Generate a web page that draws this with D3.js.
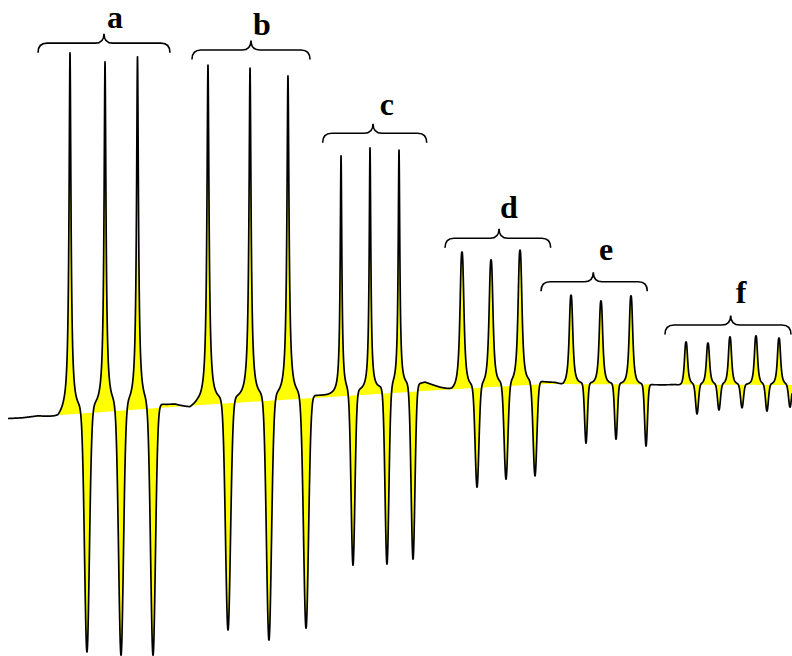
<!DOCTYPE html>
<html>
<head>
<meta charset="utf-8">
<script src="https://cdn.jsdelivr.net/npm/d3@7"></script>
<style>
  html, body { margin: 0; padding: 0; background: #ffffff; }
  svg { display: block; }
</style>
</head>
<body>
<svg id="chart" width="792" height="656"></svg>
<script>
// ---- Spectrum data (field in sweep units 0-100, intensity in arbitrary units) ----
const groupNames = ["a", "b", "c", "d", "e", "f"];

// group index of every hyperfine line
const lineGroup = [0, 0, 0, 1, 1, 1, 2, 2, 2, 3, 3, 3, 4, 4, 4, 5, 5, 5, 5, 5];

// positive lobe: field and apex intensity
const peakField = [8.84, 13.26, 17.36, 26.26, 31.57, 36.36, 43.06, 46.72, 50.38,
                   58.33, 62.00, 65.66, 72.10, 75.88, 79.67, 86.62, 89.39, 92.17, 95.45, 98.36];
const peakTop   = [101.7, 99.2, 100.6, 98.3, 97.5, 95.3, 73.1, 75.3, 74.7,
                   46.4, 44.2, 46.9, 34.4, 32.8, 34.2, 21.4, 21.1, 22.8, 23.1, 22.5];

// negative lobe: field and minimum intensity
const troughField  = [10.98, 15.28, 19.32, 28.79, 33.96, 38.64, 44.57, 48.86, 52.15,
                      60.23, 63.89, 67.55, 73.99, 77.78, 81.57, 88.01, 90.78, 93.69, 96.84, 99.75];
const troughBottom = [-64.7, -65.6, -65.6, -58.6, -61.4, -58.1, -40.6, -40.3, -38.9,
                      -18.9, -16.7, -15.8, -6.7, -5.6, -7.5, 1.4, 2.5, 3.1, 2.2, 3.3];

// line-shape parameters per group
const posWidth = [0.150, 0.160, 0.125, 0.285, 0.260, 0.235];
const posPower = [1.85, 1.85, 1.9, 2.6, 2.6, 2.6];
const negWidth = [0.305, 0.315, 0.240, 0.235, 0.175, 0.180];

// baseline drift of the recorded trace
const driftField = [1.01, 2.78, 4.80, 6.31, 7.32, 8.08, 12.63, 18.94, 22.10, 23.99, 25.00, 29.04,
                    37.88, 41.41, 46.72, 52.40, 53.66, 55.56, 57.07, 57.83, 63.13, 68.18, 70.08,
                    71.09, 71.72, 82.07, 85.23, 86.11, 87.12, 100];
const driftLevel = [0, 0.14, 0.56, 0.14, -0.28, 0.83, 2.5, 3.33, 3.61, 2.5, 3.61, 4.72,
                    5.83, 6.11, 7.5, 9.17, 10.0, 8.61, 7.78, 8.33, 9.44, 10.28, 10.0,
                    9.17, 9.72, 9.44, 9.44, 8.89, 9.44, 9.44];

// reference level the shaded area is measured from
const refField = [4.17, 25.25, 41.67, 55.56, 68.81, 100];
const refLevel = [0.56, 3.89, 6.11, 8.06, 9.72, 9.44];

// group braces and labels
const braceFrom  = [4.80, 24.24, 40.74, 56.19, 68.31, 83.96];
const braceTo    = [21.46, 39.14, 53.88, 69.53, 81.73, 99.87];
const braceTip   = [13.13, 31.69, 47.10, 63.01, 74.91, 92.26];
const braceLevel = [104.4, 102.5, 79.36, 50.19, 38.14, 26.11];
const labelField = [14.52, 33.08, 48.86, 64.27, 76.52, 93.56];
const labelLevel = [108.6, 106.7, 84.44, 55.83, 44.17, 32.22];

// ---- Scales ----
const width = 792, height = 656;
const svg = d3.select("#chart");
const x = d3.scaleLinear().domain([0, 100]).range([0, width]);
const y = d3.scaleLinear().domain([0, 100]).range([419, 59]);
const drift = d3.scaleLinear().domain(driftField).range(driftLevel).clamp(true);
const ref = d3.scaleLinear().domain(refField).range(refLevel).clamp(true);

// each line: a sharp positive lobe followed by a gaussian negative lobe
const lines = peakField.map((pf, i) => {
  const g = lineGroup[i];
  return {
    pf, tf: troughField[i],
    pa: peakTop[i] - drift(peakField[i]),
    ta: drift(troughField[i]) - troughBottom[i],
    gw: posWidth[g], gp: posPower[g], s: negWidth[g]
  };
});

function signal(f) {
  let v = drift(f);
  for (const l of lines) {
    const u = Math.abs(f - l.pf) / l.gw;
    v += l.pa / (1 + Math.pow(u, l.gp));
    const d = (f - l.tf) / l.s;
    v -= l.ta * Math.exp(-0.5 * d * d);
  }
  return v;
}

// adjust lobe amplitudes so overlapping tails still meet the listed extremes
for (let k = 0; k < 8; k++) {
  lines.forEach((l, i) => {
    l.pa += peakTop[i] - signal(l.pf);
    l.ta += signal(l.tf) - troughBottom[i];
  });
}

const sampleFields = d3.range(1.01, 100.0001, 0.01)
  .concat(peakField, troughField)
  .sort((p, q) => p - q);
const trace = sampleFields.map(f => ({ f, v: signal(f) }));

// ---- Shaded area between trace and reference level ----
const area = d3.area()
  .x(d => x(d.f))
  .y0(d => y(ref(d.f)))
  .y1(d => y(d.v));

svg.append("path")
  .datum(trace.filter(d => d.f >= refField[0]))
  .attr("d", area)
  .attr("fill", "#ffff00")
  .attr("stroke", "none");

// ---- Trace ----
const line = d3.line().x(d => x(d.f)).y(d => y(d.v));
svg.append("path")
  .datum(trace)
  .attr("d", line)
  .attr("fill", "none")
  .attr("stroke", "#000")
  .attr("stroke-width", 1.7)
  .attr("stroke-linejoin", "round");

// ---- Braces with group labels ----
const hook = 9.5, tipRise = 9.5, corner = 9;
const braces = svg.append("g").attr("class", "braces");
groupNames.forEach((name, i) => {
  const x0 = x(braceFrom[i]), x1 = x(braceTo[i]), xc = x(braceTip[i]);
  const yl = y(braceLevel[i]);
  const p = d3.path();
  p.moveTo(x0, yl + hook);
  p.quadraticCurveTo(x0, yl, x0 + corner, yl);
  p.lineTo(xc - corner, yl);
  p.quadraticCurveTo(xc, yl, xc, yl - tipRise);
  p.quadraticCurveTo(xc, yl, xc + corner, yl);
  p.lineTo(x1 - corner, yl);
  p.quadraticCurveTo(x1, yl, x1, yl + hook);
  braces.append("path")
    .attr("d", p.toString())
    .attr("fill", "none")
    .attr("stroke", "#000")
    .attr("stroke-width", 1.6);
  braces.append("text")
    .attr("x", x(labelField[i]))
    .attr("y", y(labelLevel[i]))
    .attr("text-anchor", "middle")
    .attr("font-family", "'Liberation Serif', 'Times New Roman', serif")
    .attr("font-weight", "bold")
    .attr("font-size", 32)
    .text(name);
});
</script>
</body>
</html>
